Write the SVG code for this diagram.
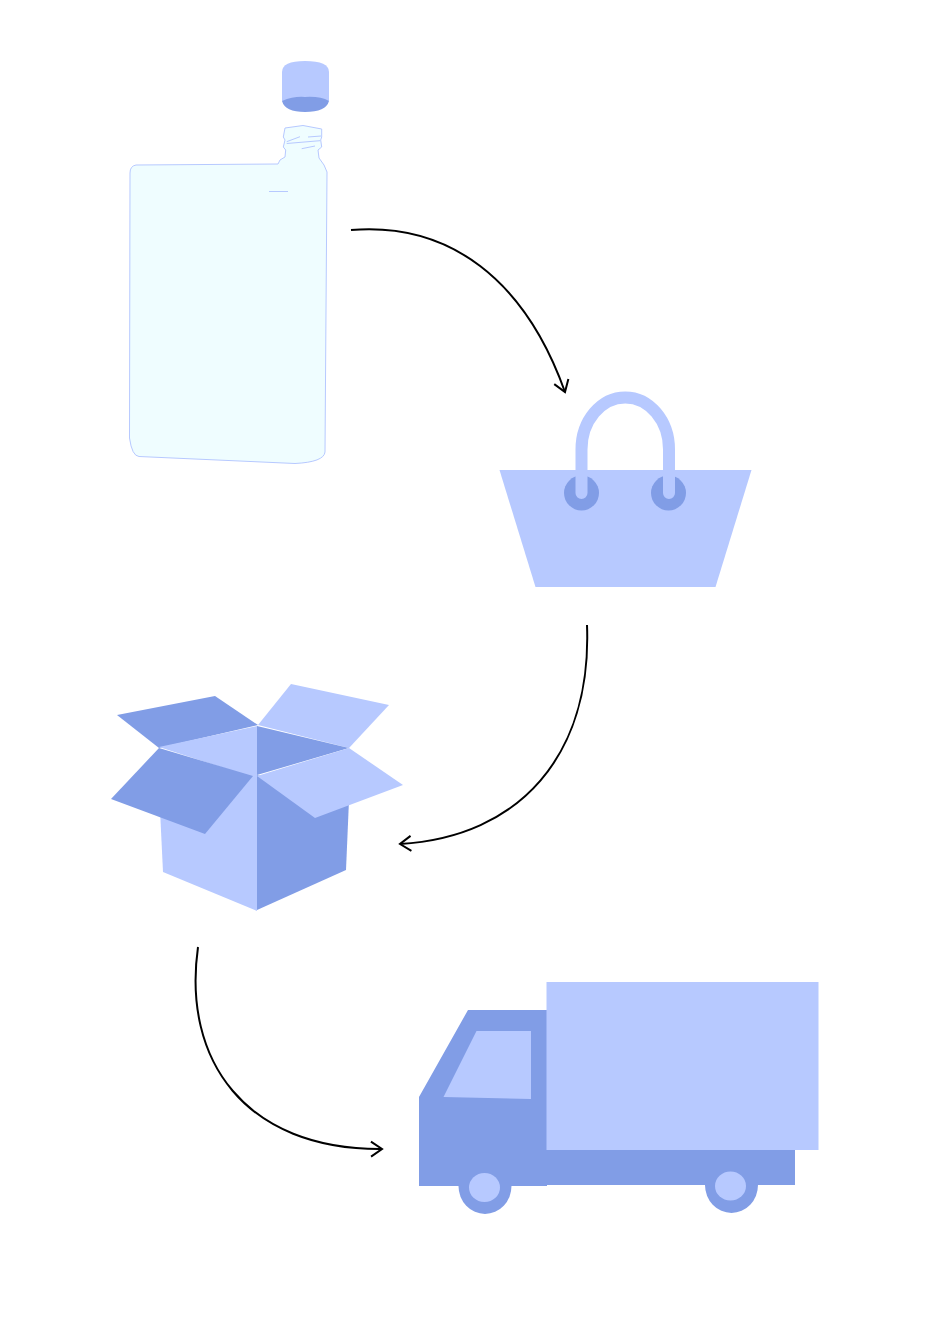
<svg xmlns="http://www.w3.org/2000/svg" width="936" height="1319" viewBox="0 0 936 1319">
<style>
.l{fill:#b7c9ff}
.d{fill:#819de6}
.o{fill:none;stroke:#b7c9ff;stroke-width:1}
.c{fill:none;stroke:#000;stroke-width:2}
</style>
<defs>
<marker id="a" markerUnits="userSpaceOnUse" markerWidth="24" markerHeight="24" refX="16" refY="12" orient="auto">
<path d="M5 4.500L16 12L5 19.500" fill="none" stroke="#000" stroke-width="2"/>
</marker>
</defs>
<rect width="936" height="1319" fill="#fff"/>
<g id="bottle">
<path class="l" d="M282 72Q282 61 305 61Q329 61 329 72V101H282Z"/>
<path class="d" d="M282 101Q294 96 305 97Q320 96 329 101Q326 112 305 112Q285 112 282 101Z"/>
<path d="M136 165L278 164L280 160L285 157L285.700 150L283.300 147L285 140L283.300 137L285 128L303 125.500L321.700 129L321.700 137L320.700 140L321.700 147L318 150L319 158L324 165L327 172L325 452Q324 462 295 463.500L139 456.500Q132 456 129.500 438L130 173Q130 166 136 165Z" fill="#effdff" stroke="#b7c9ff" stroke-width="1"/>
<path class="o" d="M286.700 141.700L300 136.700M308 137L321 136M286.700 143.500L320 140.700M301.700 148.700L315 146M269 191.500H288"/>
</g>
<g id="bag">
<path class="l" d="M499.500 470H751.500L715.500 587H535.500Z"/>
<circle class="d" cx="581.500" cy="493" r="17.500"/>
<circle class="d" cx="668.500" cy="493" r="17.500"/>
<path d="M581.500 493V449.500A43.750 52 0 0 1 669 449.500V493" fill="none" stroke="#b7c9ff" stroke-width="12" stroke-linecap="round"/>
</g>
<g id="box">
<path class="l" d="M160 810L257 775V911L163 872Z"/>
<path class="d" d="M257 775L349 800L346 870L257 910Z"/>
<path class="d" d="M117 715L215 696L258 725L159 748Z"/>
<path class="l" d="M258 725L291 684L389 705L349 748Z"/>
<path class="l" d="M159 747L257 726V780L252 777Z"/>
<path class="d" d="M257 726L349 748L257 775Z"/>
<path class="d" d="M159 748L253 776L205 834L111 799Z"/>
<path class="l" d="M257 776L349 748L403 785L315 818Z"/>
</g>
<g id="truck">
<path class="d" d="M419 1097L468 1010H547V1149H795V1185H547V1186H419Z"/>
<rect class="l" x="546.500" y="982" width="272" height="168"/>
<path class="l" d="M476.500 1031H531V1099L443.500 1097Z"/>
<path class="d" d="M458.500 1186H511.500A26.500 28 0 0 1 458.500 1186Z"/>
<path class="d" d="M705 1185H758A26.500 28 0 0 1 705 1185Z"/>
<ellipse class="l" cx="484.500" cy="1187.500" rx="15.500" ry="14.500"/>
<ellipse class="l" cx="730.500" cy="1186" rx="15.500" ry="14.500"/>
</g>
<g id="connectors">
<path class="c" marker-end="url(#a)" d="M351 230C450 222 525 280 565 392"/>
<path class="c" marker-end="url(#a)" d="M587 625C592 755 520 837 400 844"/>
<path class="c" marker-end="url(#a)" d="M198 947C182 1060 245 1150 382 1149"/>
</g>
</svg>
